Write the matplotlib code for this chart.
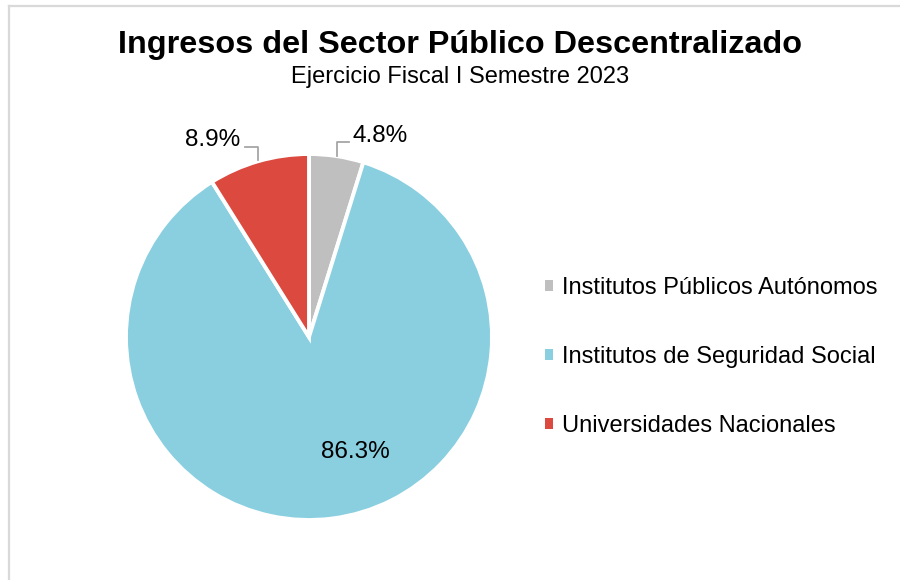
import matplotlib
matplotlib.use("Agg")
import matplotlib.pyplot as plt
from matplotlib.lines import Line2D
from matplotlib.patches import Patch

plt.rcParams['font.family'] = ['Liberation Sans', 'DejaVu Sans']

categories = ["Institutos Públicos Autónomos", "Institutos de Seguridad Social", "Universidades Nacionales"]
values = [4.8, 86.3, 8.9]
colors = ["#BFBFBF", "#89CFE0", "#DC4A3F"]
title = "Ingresos del Sector Público Descentralizado"
subtitle = "Ejercicio Fiscal I Semestre 2023"

W, H = 900, 580
fig = plt.figure(figsize=(9, 5.8), dpi=100)
fig.patch.set_facecolor("white")

# frame lines (left and top)
fig.add_artist(Line2D([8.5 / W, 8.5 / W], [0, 1 - 5.5 / H], color="#D9D9D9", lw=1.6,
                      transform=fig.transFigure))
fig.add_artist(Line2D([8.5 / W, 1], [1 - 5.5 / H, 1 - 5.5 / H], color="#D9D9D9", lw=1.6,
                      transform=fig.transFigure))

cx, cy, r = 309, 337, 183
ax = fig.add_axes([(cx - r) / W, (H - cy - r) / H, 2 * r / W, 2 * r / H])
wedges, _ = ax.pie(values, colors=colors, startangle=90, counterclock=False, radius=1,
                   wedgeprops=dict(edgecolor="white", linewidth=2.8))
ax.set_xlim(-1, 1)
ax.set_ylim(-1, 1)
ax.set_aspect("equal")
ax.axis("off")

def px(x, y):
    return ((x - cx) / r, (cy - y) / r)

# labels
fs = 17.5
ax.text(*px(380, 136), f"{values[0]}%", ha="center", va="center", fontsize=fs, color="#000000")
ax.text(*px(213, 140), f"{values[2]}%", ha="center", va="center", fontsize=fs, color="#000000")
ax.text(*px(355, 452), f"{values[1]}%", ha="center", va="center", fontsize=fs, color="#000000")

# leader lines
l1 = [px(349, 142), px(337, 142), px(337, 156)]
ax.plot([p[0] for p in l1], [p[1] for p in l1], color="#A6A6A6", lw=1.3, clip_on=False)
l2 = [px(245, 147), px(258, 147), px(258, 160)]
ax.plot([p[0] for p in l2], [p[1] for p in l2], color="#A6A6A6", lw=1.3, clip_on=False)

fig.text(460 / W, 1 - 45 / H, title, ha="center", va="center", fontsize=23.3, fontweight="bold")
fig.text(460 / W, 1 - 77 / H, subtitle, ha="center", va="center", fontsize=17)

handles = [Patch(facecolor=c, edgecolor="none") for c in colors]
fig.legend(handles, categories, loc="center left", bbox_to_anchor=(545 / W, 1 - 357 / H),
           frameon=False, fontsize=17, handlelength=0.34, handleheight=0.34,
           handletextpad=0.38, labelspacing=2.0, borderaxespad=0, borderpad=0)

fig.savefig("out.png", dpi=100, facecolor="white")
